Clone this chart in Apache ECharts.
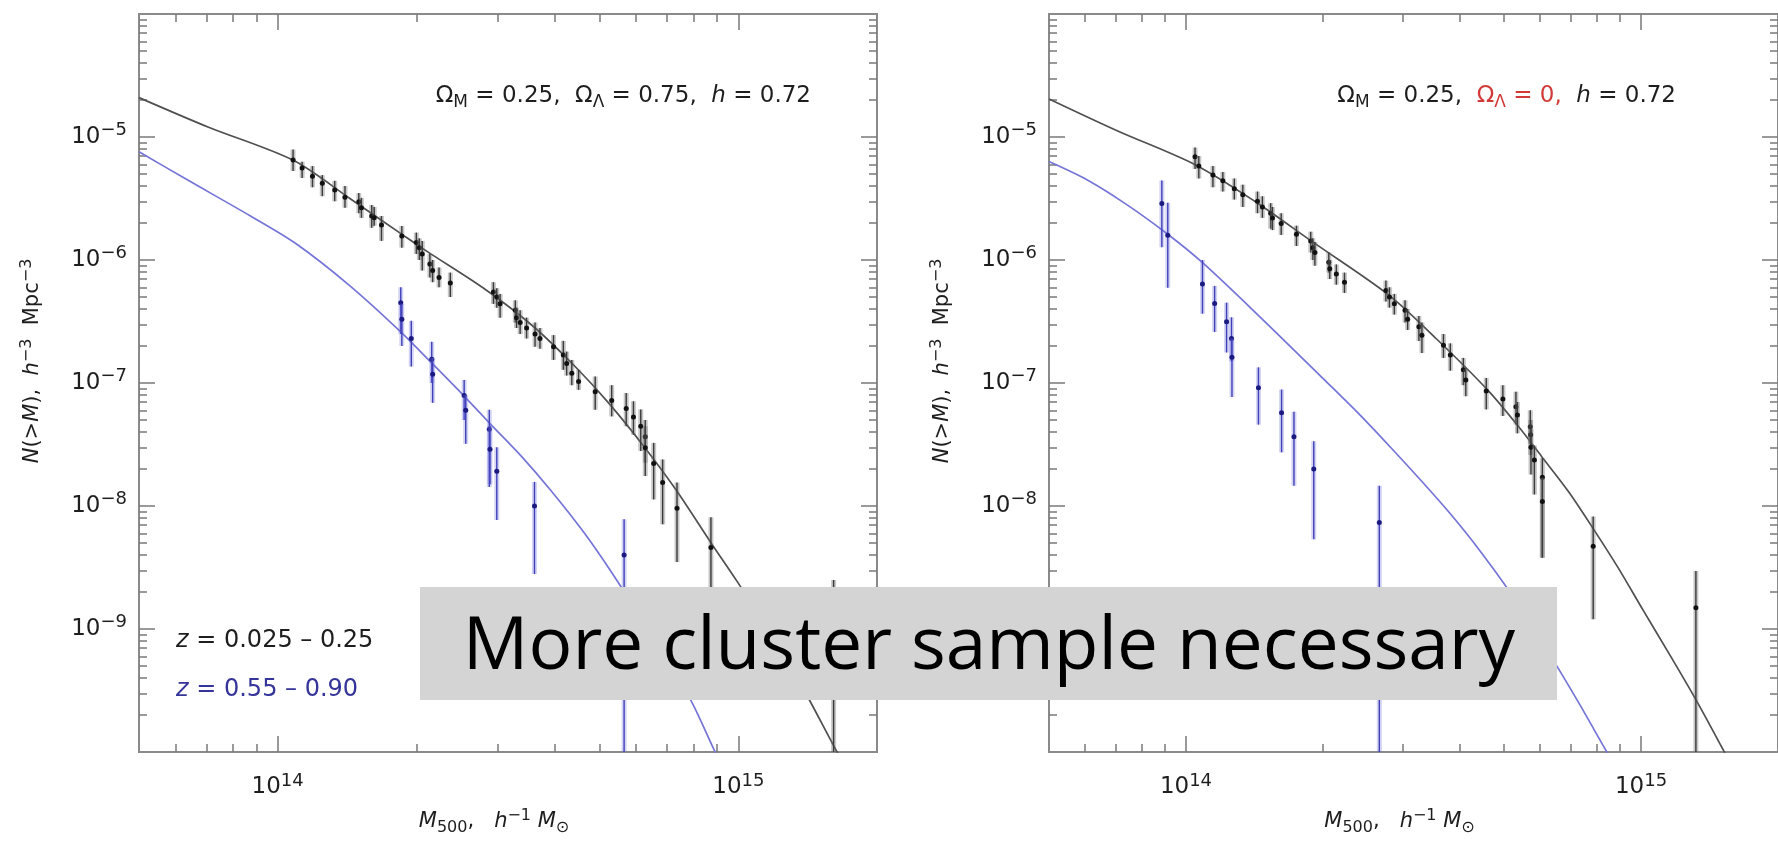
<!DOCTYPE html>
<html>
<head>
<meta charset="utf-8">
<script src="https://cdn.jsdelivr.net/npm/echarts@6.0.0/dist/echarts.min.js"></script>
<style>
html,body{margin:0;padding:0;background:#ffffff;}
#chart{width:1778px;height:841px;}
</style>
</head>
<body>
<div id="chart"></div>
<script>
// ---------------- axis ranges / tick labels ----------------
const massRange = [5e13, 2e15];          // M500, h^-1 Msun
const densityRange = [1e-10, 1e-4];      // N(>M), h^3 Mpc^-3
const massTickExponents = [14, 15];
const densityTickExponents = [-9, -8, -7, -6, -5];
const massMinorTicks = [6e13, 7e13, 8e13, 9e13, 2e14, 3e14, 4e14, 5e14, 6e14, 7e14, 8e14, 9e14];
const densityMinorMantissas = [2, 3, 4, 5, 6, 7, 8, 9];

// ---------------- data: [M, N, N_upper, N_lower] ----------------
// Left panel (Omega_L = 0.75), low-z sample z = 0.025 - 0.25
const leftLowZ = [
  [1.08e14, 6.5e-6, 7.9e-6, 5.3e-6], [1.13e14, 5.6e-6, 6.3e-6, 4.65e-6], [1.19e14, 4.8e-6, 5.8e-6, 3.9e-6],
  [1.25e14, 4.2e-6, 4.9e-6, 3.3e-6], [1.33e14, 3.7e-6, 4.4e-6, 3.0e-6], [1.40e14, 3.24e-6, 4.0e-6, 2.66e-6],
  [1.50e14, 2.97e-6, 3.5e-6, 2.4e-6], [1.52e14, 2.66e-6, 3.2e-6, 2.2e-6], [1.60e14, 2.28e-6, 2.8e-6, 1.83e-6],
  [1.62e14, 2.21e-6, 2.7e-6, 1.9e-6], [1.68e14, 1.93e-6, 2.28e-6, 1.43e-6], [1.86e14, 1.57e-6, 1.89e-6, 1.26e-6],
  [2.00e14, 1.39e-6, 1.67e-6, 1.12e-6], [2.03e14, 1.26e-6, 1.5e-6, 1.0e-6], [2.06e14, 1.12e-6, 1.43e-6, 8.2e-7],
  [2.14e14, 9.3e-7, 1.12e-6, 7.2e-7], [2.17e14, 8.2e-7, 1.0e-6, 6.6e-7], [2.24e14, 7.2e-7, 8.7e-7, 6.0e-7],
  [2.37e14, 6.5e-7, 7.9e-7, 5.0e-7], [2.94e14, 5.5e-7, 6.6e-7, 4.4e-7], [2.99e14, 5.0e-7, 5.9e-7, 4.1e-7],
  [3.04e14, 4.4e-7, 5.3e-7, 3.4e-7], [3.28e14, 3.9e-7, 4.7e-7, 3.1e-7], [3.30e14, 3.4e-7, 4.1e-7, 2.8e-7],
  [3.36e14, 3.1e-7, 3.9e-7, 2.5e-7], [3.47e14, 2.8e-7, 3.4e-7, 2.3e-7], [3.62e14, 2.5e-7, 3.1e-7, 1.97e-7],
  [3.71e14, 2.3e-7, 2.8e-7, 1.9e-7], [3.97e14, 1.97e-7, 2.45e-7, 1.54e-7], [4.17e14, 1.69e-7, 2.2e-7, 1.28e-7],
  [4.24e14, 1.44e-7, 1.8e-7, 1.15e-7], [4.35e14, 1.20e-7, 1.54e-7, 9.6e-8], [4.50e14, 1.03e-7, 1.28e-7, 8.8e-8],
  [4.89e14, 8.5e-8, 1.13e-7, 6.06e-8], [5.31e14, 7.2e-8, 9.6e-8, 5.35e-8], [5.71e14, 6.2e-8, 8.3e-8, 4.45e-8],
  [5.92e14, 5.3e-8, 7.1e-8, 3.8e-8], [6.14e14, 4.45e-8, 6.1e-8, 2.8e-8], [6.28e14, 3.65e-8, 5.0e-8, 2.25e-8],
  [6.28e14, 2.97e-8, 4.45e-8, 1.75e-8], [6.55e14, 2.22e-8, 3.26e-8, 1.13e-8], [6.85e14, 1.55e-8, 2.39e-8, 7.1e-9],
  [7.36e14, 9.6e-9, 1.55e-8, 3.5e-9], [8.72e14, 4.6e-9, 8.1e-9, 1.5e-9], [1.61e15, 5e-10, 2.5e-9, 1e-11]
];
// Left panel, high-z sample z = 0.55 - 0.90
const leftHighZ = [
  [1.85e14, 4.5e-7, 6.0e-7, 2.5e-7], [1.86e14, 3.3e-7, 4.4e-7, 2.0e-7], [1.95e14, 2.3e-7, 3.2e-7, 1.36e-7],
  [2.16e14, 1.56e-7, 2.16e-7, 1.0e-7], [2.17e14, 1.18e-7, 1.6e-7, 6.9e-8], [2.54e14, 7.9e-8, 1.06e-7, 5.0e-8],
  [2.56e14, 6.0e-8, 8.0e-8, 3.2e-8], [2.88e14, 4.2e-8, 6.06e-8, 1.43e-8], [2.89e14, 2.9e-8, 4.5e-8, 1.5e-8],
  [2.99e14, 1.92e-8, 3.0e-8, 7.7e-9], [3.61e14, 1.0e-8, 1.57e-8, 2.8e-9], [5.65e14, 4.0e-9, 7.8e-9, 1e-11]
];
// Right panel (Omega_L = 0), low-z sample
const rightLowZ = [
  [1.047e14, 6.9e-6, 8.2e-6, 5.5e-6], [1.067e14, 5.8e-6, 7.0e-6, 4.6e-6], [1.146e14, 4.9e-6, 5.8e-6, 3.9e-6],
  [1.205e14, 4.4e-6, 5.2e-6, 3.6e-6], [1.277e14, 3.8e-6, 4.6e-6, 3.1e-6], [1.333e14, 3.4e-6, 4.1e-6, 2.7e-6],
  [1.436e14, 3.0e-6, 3.6e-6, 2.4e-6], [1.472e14, 2.7e-6, 3.3e-6, 2.2e-6], [1.535e14, 2.4e-6, 2.9e-6, 1.8e-6],
  [1.549e14, 2.2e-6, 2.7e-6, 1.75e-6], [1.619e14, 1.98e-6, 2.4e-6, 1.6e-6], [1.749e14, 1.62e-6, 1.9e-6, 1.3e-6],
  [1.880e14, 1.43e-6, 1.7e-6, 1.15e-6], [1.90e14, 1.26e-6, 1.5e-6, 1.0e-6], [1.92e14, 1.15e-6, 1.4e-6, 9.0e-7],
  [2.06e14, 9.6e-7, 1.15e-6, 7.9e-7], [2.07e14, 8.5e-7, 1.0e-6, 7.0e-7], [2.14e14, 7.7e-7, 9.2e-7, 6.3e-7],
  [2.23e14, 6.6e-7, 7.9e-7, 5.4e-7], [2.75e14, 5.65e-7, 6.8e-7, 4.6e-7], [2.80e14, 5.0e-7, 6.0e-7, 4.1e-7],
  [2.87e14, 4.4e-7, 5.3e-7, 3.6e-7], [3.03e14, 3.9e-7, 4.7e-7, 3.1e-7], [3.07e14, 3.3e-7, 4.0e-7, 2.7e-7],
  [3.25e14, 2.86e-7, 3.5e-7, 2.2e-7], [3.30e14, 2.45e-7, 3.1e-7, 1.75e-7], [3.68e14, 2.03e-7, 2.5e-7, 1.6e-7],
  [3.81e14, 1.69e-7, 2.1e-7, 1.26e-7], [4.07e14, 1.28e-7, 1.6e-7, 9.6e-8], [4.12e14, 1.06e-7, 1.3e-7, 7.8e-8],
  [4.57e14, 8.6e-8, 1.1e-7, 6.1e-8], [4.97e14, 7.4e-8, 9.6e-8, 5.4e-8], [5.31e14, 6.4e-8, 8.5e-8, 4.6e-8],
  [5.35e14, 5.5e-8, 7.0e-8, 3.9e-8], [5.71e14, 4.4e-8, 6.0e-8, 3.2e-8], [5.72e14, 3.8e-8, 5.0e-8, 2.6e-8],
  [5.73e14, 3.0e-8, 4.2e-8, 1.8e-8], [5.83e14, 2.37e-8, 3.1e-8, 1.24e-8], [6.07e14, 1.71e-8, 2.45e-8, 3.8e-9],
  [6.07e14, 1.09e-8, 1.7e-8, 3.8e-9], [7.85e14, 4.71e-9, 8.2e-9, 1.2e-9], [1.32e15, 1.49e-9, 2.96e-9, 1e-11]
];
// Right panel, high-z sample
const rightHighZ = [
  [8.85e13, 2.88e-6, 4.43e-6, 1.27e-6], [9.12e13, 1.59e-6, 2.92e-6, 5.94e-7], [1.087e14, 6.38e-7, 1.0e-6, 3.66e-7],
  [1.156e14, 4.42e-7, 6.16e-7, 2.6e-7], [1.228e14, 3.15e-7, 4.5e-7, 1.77e-7], [1.259e14, 2.30e-7, 3.42e-7, 1.5e-7],
  [1.262e14, 1.62e-7, 2.3e-7, 7.7e-8], [1.443e14, 9.16e-8, 1.34e-7, 4.59e-8], [1.622e14, 5.73e-8, 8.85e-8, 2.73e-8],
  [1.727e14, 3.65e-8, 5.85e-8, 1.46e-8], [1.909e14, 2.0e-8, 3.36e-8, 5.36e-9], [2.66e14, 7.33e-9, 1.46e-8, 1e-11]
];

// ---------------- model curves: [M, N] ----------------
const leftLowZModel = [
  [5.0e13, 2.09e-5], [7.08e13, 1.20e-5], [1.081e14, 6.46e-6], [1.435e14, 3.16e-6], [1.875e14, 1.585e-6],
  [2.109e14, 1.175e-6], [2.80e14, 5.89e-7], [3.59e14, 2.88e-7], [4.46e14, 1.318e-7], [5.25e14, 6.76e-8],
  [6.28e14, 2.95e-8], [7.36e14, 1.318e-8], [8.69e14, 5.13e-9], [9.93e14, 2.45e-9], [1.122e15, 1.20e-9],
  [1.259e15, 5.89e-10], [1.409e15, 2.88e-10], [1.622e15, 1.07e-10], [1.70e15, 7.9e-11]
];
const leftHighZModel = [
  [5.0e13, 7.59e-6], [6.31e13, 4.57e-6], [8.71e13, 2.29e-6], [1.089e14, 1.38e-6], [1.435e14, 6.17e-7],
  [1.845e14, 2.63e-7], [2.163e14, 1.445e-7], [2.53e14, 7.94e-8], [2.89e14, 4.68e-8], [3.39e14, 2.51e-8],
  [3.91e14, 1.35e-8], [4.61e14, 6.17e-9], [5.31e14, 2.88e-9], [6.31e14, 1.047e-9], [7.24e14, 4.47e-10],
  [7.94e14, 2.51e-10], [8.83e14, 1.07e-10], [9.12e14, 8.3e-11]
];
const rightLowZModel = [
  [5.0e13, 2.04e-5], [7.08e13, 1.12e-5], [1.047e14, 5.96e-6], [1.413e14, 3.02e-6], [1.905e14, 1.39e-6],
  [2.80e14, 5.14e-7], [3.55e14, 2.29e-7], [4.61e14, 8.71e-8], [5.45e14, 4.17e-8], [6.04e14, 2.54e-8],
  [6.92e14, 1.318e-8], [7.87e14, 6.46e-9], [8.91e14, 3.14e-9], [1.012e15, 1.41e-9], [1.148e15, 6.46e-10],
  [1.318e15, 2.69e-10], [1.514e15, 1.05e-10], [1.549e15, 8.9e-11]
];
const rightHighZModel = [
  [5.0e13, 6.31e-6], [6.07e13, 4.47e-6], [7.41e13, 2.82e-6], [9.12e13, 1.62e-6], [1.086e14, 9.55e-7],
  [1.442e14, 3.55e-7], [2.01e14, 1.07e-7], [2.399e14, 5.61e-8], [2.818e14, 2.99e-8], [3.311e14, 1.56e-8],
  [3.802e14, 8.73e-9], [4.395e14, 4.48e-9], [5.20e14, 1.90e-9], [6.14e14, 7.26e-10], [7.24e14, 2.64e-10],
  [8.41e14, 1.0e-10], [8.71e14, 8.0e-11]
];

// ---------------- build ----------------
const L = Math.log10;
const FONT = "'DejaVu Sans','Noto Sans',sans-serif";
const INK = '#1e1e1e';
const BLUE_TXT = '#34349a';
const RED_TXT = '#d23a3a';

// colorKey: 'color' for ECharts text styles, 'fill' for graphic (zrender) text
function makeRich(size, small, colorKey) {
  const st = (extra, col) => Object.assign({fontFamily: FONT, [colorKey]: col || INK}, extra);
  const lh = Math.round(size * 1.35);
  return {
    t:   st({fontSize: size, lineHeight: lh}),
    ti:  st({fontSize: size, lineHeight: lh, fontStyle: 'italic'}),
    sup: st({fontSize: small, lineHeight: small, verticalAlign: 'top'}),
    sub: st({fontSize: small, lineHeight: small, verticalAlign: 'bottom'}),
    r:   st({fontSize: size, lineHeight: lh}, RED_TXT),
    rsub:st({fontSize: small, lineHeight: small, verticalAlign: 'bottom'}, RED_TXT),
    b:   st({fontSize: size, lineHeight: lh}, BLUE_TXT),
    bi:  st({fontSize: size, lineHeight: lh, fontStyle: 'italic'}, BLUE_TXT)
  };
}
const richTick = makeRich(23, 18, 'color');
const richName = makeRich(21, 16, 'color');
const richNote = makeRich(23, 17, 'fill');
const richLegend = makeRich(24, 18, 'fill');

const fmtExp = v => {
  const e = Math.round(v);
  return '{t|10}{sup|' + (e < 0 ? '\u2212' + Math.abs(e) : e) + '}';
};
const xMajor = massTickExponents.slice();
const xMinor = massMinorTicks.map(L);
const yMajor = densityTickExponents.slice();
const yMinor = [];
for (let e = -10; e < -4; e++) densityMinorMantissas.forEach(m => yMinor.push(e + L(m)));

const TICK = {color: '#7a7a7a', width: 1.5};
const xName = '{ti|M}{sub|500}{t|,   }{ti|h}{sup|\u22121}{t| }{ti|M}{sub|\u2299}';
const yName = '{ti|N}{t|(>}{ti|M}{t|),  }{ti|h}{sup|\u22123}{t|  Mpc}{sup|\u22123}';

const xAxes = [], yAxes = [];
[0, 1].forEach(gi => {
  const cx = {type: 'value', gridIndex: gi, min: L(massRange[0]), max: L(massRange[1]),
    splitLine: {show: false}, axisLine: {show: false, onZero: false}};
  xAxes.push(
    Object.assign({}, cx, {position: 'bottom',
      axisTick: {show: true, inside: true, length: 16, customValues: xMajor, lineStyle: TICK},
      axisLabel: {show: true, customValues: xMajor, formatter: fmtExp, rich: richTick, margin: 20},
      name: xName, nameLocation: 'middle', nameGap: 56,
      nameTextStyle: {rich: richName, padding: [0, 28, 0, 0]}}),
    Object.assign({}, cx, {position: 'bottom',
      axisTick: {show: true, inside: true, length: 8, customValues: xMinor, lineStyle: TICK},
      axisLabel: {show: false}}),
    Object.assign({}, cx, {position: 'top',
      axisTick: {show: true, inside: true, length: 16, customValues: xMajor, lineStyle: TICK},
      axisLabel: {show: false}}),
    Object.assign({}, cx, {position: 'top',
      axisTick: {show: true, inside: true, length: 8, customValues: xMinor, lineStyle: TICK},
      axisLabel: {show: false}})
  );
  const cy = {type: 'value', gridIndex: gi, min: L(densityRange[0]), max: L(densityRange[1]),
    splitLine: {show: false}, axisLine: {show: false, onZero: false}};
  yAxes.push(
    Object.assign({}, cy, {position: 'left',
      axisTick: {show: true, inside: true, length: 16, customValues: yMajor, lineStyle: TICK},
      axisLabel: {show: true, customValues: yMajor, formatter: fmtExp, rich: richTick, margin: 12},
      name: yName, nameLocation: 'middle', nameGap: 92, nameRotate: 90,
      nameTextStyle: {rich: richName, padding: [0, 0, 0, 44]}}),
    Object.assign({}, cy, {position: 'left',
      axisTick: {show: true, inside: true, length: 8, customValues: yMinor, lineStyle: TICK},
      axisLabel: {show: false}}),
    Object.assign({}, cy, {position: 'right',
      axisTick: {show: true, inside: true, length: 16, customValues: yMajor, lineStyle: TICK},
      axisLabel: {show: false}}),
    Object.assign({}, cy, {position: 'right',
      axisTick: {show: true, inside: true, length: 8, customValues: yMinor, lineStyle: TICK},
      axisLabel: {show: false}})
  );
});

function modelSeries(rows, ai, color) {
  return {type: 'line', xAxisIndex: ai, yAxisIndex: ai, data: rows.map(r => [L(r[0]), L(r[1])]),
    showSymbol: false, symbol: 'none', smooth: 0.3, clip: true, silent: true, z: 3,
    lineStyle: {color: color, width: 1.7}};
}
function errorSeries(rows, ai, c) {
  return {type: 'custom', xAxisIndex: ai, yAxisIndex: ai, clip: true, silent: true, z: 4,
    data: rows.map(r => [L(r[0]), L(r[1]), L(r[2]), L(r[3])]),
    renderItem: function (params, api) {
      const p = api.coord([api.value(0), api.value(1)]);
      const a = api.coord([api.value(0), api.value(2)]);
      const b = api.coord([api.value(0), api.value(3)]);
      return {type: 'group', children: [
        {type: 'line', shape: {x1: a[0], y1: a[1], x2: b[0], y2: b[1]}, style: {stroke: c.halo, lineWidth: 5}},
        {type: 'line', shape: {x1: a[0], y1: a[1], x2: b[0], y2: b[1]}, style: {stroke: c.bar, lineWidth: 1.4}},
        {type: 'circle', shape: {cx: p[0], cy: p[1], r: 2.5}, style: {fill: c.dot}}
      ]};
    }};
}
const blackErr = {halo: 'rgba(110,110,110,0.38)', bar: '#3a3a3a', dot: '#111111'};
const blueErr = {halo: 'rgba(110,110,220,0.30)', bar: '#4040b8', dot: '#1a1a80'};
const BLACK_LINE = '#505050';
const BLUE_LINE = '#7575d8';

const option = {
  animation: false,
  backgroundColor: '#ffffff',
  grid: [
    {left: 139, top: 14, width: 738, height: 741, show: true, borderColor: '#8a8a8a', borderWidth: 2, backgroundColor: 'transparent'},
    {left: 1049, top: 14, width: 738, height: 741, show: true, borderColor: '#8a8a8a', borderWidth: 2, backgroundColor: 'transparent'}
  ],
  xAxis: xAxes,
  yAxis: yAxes,
  series: [
    modelSeries(leftLowZModel, 0, BLACK_LINE),
    modelSeries(leftHighZModel, 0, BLUE_LINE),
    errorSeries(leftLowZ, 0, blackErr),
    errorSeries(leftHighZ, 0, blueErr),
    modelSeries(rightLowZModel, 4, BLACK_LINE),
    modelSeries(rightHighZModel, 4, BLUE_LINE),
    errorSeries(rightLowZ, 4, blackErr),
    errorSeries(rightHighZ, 4, blueErr)
  ],
  graphic: [
    {type: 'text', x: 811, y: 96, z: 50, style: {text: '{t|\u03A9}{sub|M}{t| = 0.25,  \u03A9}{sub|\u039B}{t| = 0.75,  }{ti|h}{t| = 0.72}', rich: richNote, align: 'right', verticalAlign: 'middle'}},
    {type: 'text', x: 1676, y: 96, z: 50, style: {text: '{t|\u03A9}{sub|M}{t| = 0.25,  }{r|\u03A9}{rsub|\u039B}{r| = 0,}{t|  }{ti|h}{t| = 0.72}', rich: richNote, align: 'right', verticalAlign: 'middle'}},
    {type: 'text', x: 176, y: 641, z: 50, style: {text: '{ti|z}{t| = 0.025 \u2013 0.25}', rich: richLegend, align: 'left', verticalAlign: 'middle'}},
    {type: 'text', x: 176, y: 690, z: 50, style: {text: '{bi|z}{b| = 0.55 \u2013 0.90}', rich: richLegend, align: 'left', verticalAlign: 'middle'}},
    {type: 'rect', z: 100, shape: {x: 420, y: 587, width: 1137, height: 113}, style: {fill: '#d4d4d4'}},
    {type: 'text', z: 101, x: 989, y: 648, style: {text: 'More cluster sample necessary', font: "73px 'Open Sans', Lato, sans-serif", fill: '#000000', align: 'center', verticalAlign: 'middle'}}
  ]
};
const chart = echarts.init(document.getElementById('chart'), null, {renderer: 'canvas'});
chart.setOption(option);
</script>
</body>
</html>
